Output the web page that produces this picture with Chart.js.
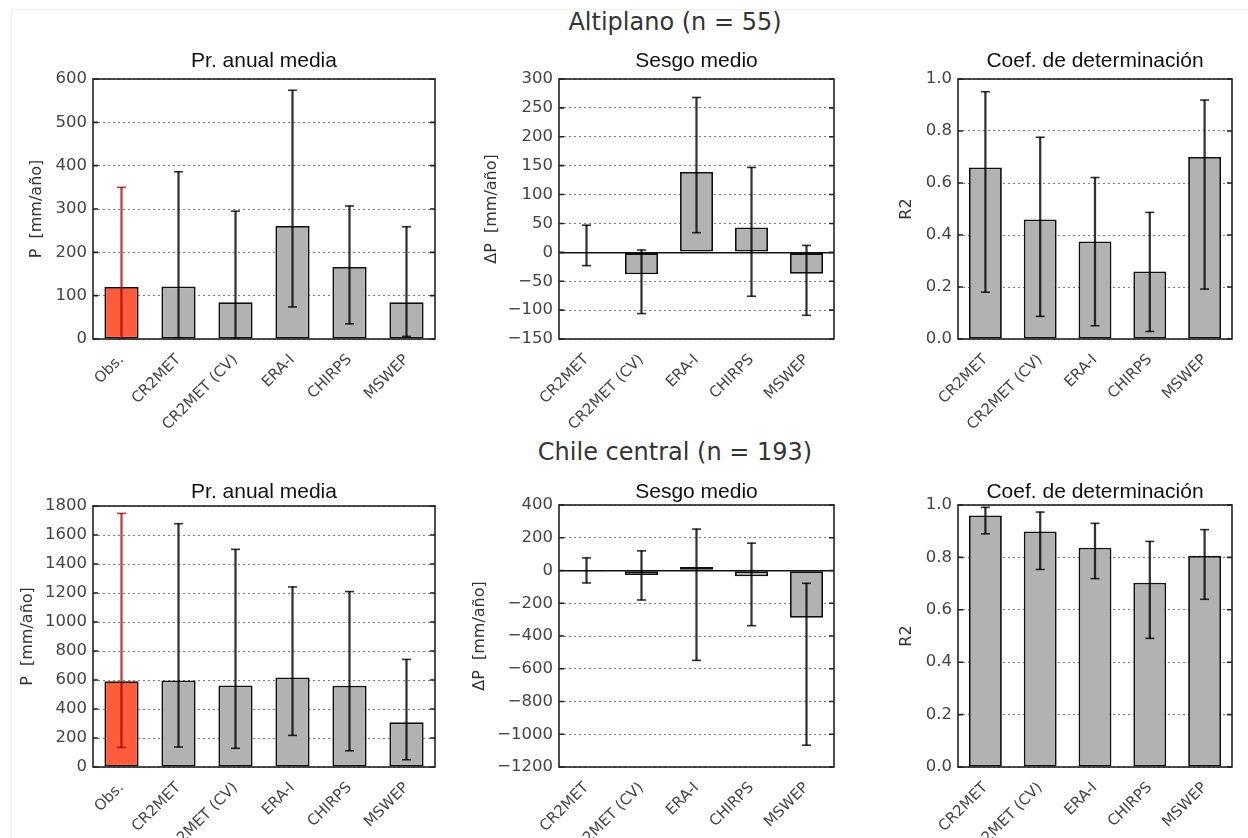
<!DOCTYPE html>
<html>
<head>
<meta charset="utf-8">
<script src="https://cdn.jsdelivr.net/npm/chart.js@4/dist/chart.umd.min.js"></script>
<style>
  body { margin: 0; background: #fff; width: 1248px; height: 838px; overflow: hidden; position: relative; }
  .frame { position: absolute; left: 11px; top: 9px; width: 1260px; height: 900px; border: 1px solid #eee; }
  .sup { position: absolute; left: 0; width: 1350px; text-align: center; font-family: 'DejaVu Sans'; font-size: 24px; color: #333; line-height: 28px; }
  canvas { position: absolute; }
</style>
</head>
<body>
<div class="frame"></div>
<div class="sup" style="top:8px">Altiplano (n = 55)</div>
<div class="sup" style="top:438px">Chile central (n = 193)</div>
<canvas id="p1"></canvas>
<canvas id="p2"></canvas>
<canvas id="p3"></canvas>
<canvas id="p4"></canvas>
<canvas id="p5"></canvas>
<canvas id="p6"></canvas>
<script>
const catsObs = ['Obs.', 'CR2MET', 'CR2MET (CV)', 'ERA-I', 'CHIRPS', 'MSWEP'];
const catsProd = ['CR2MET', 'CR2MET (CV)', 'ERA-I', 'CHIRPS', 'MSWEP'];

// Altiplano
const altPrMean = [120, 121, 85, 261, 166, 85];
const altPrLow = [2, 3, 2, 74, 35, 6];
const altPrHigh = [350, 386, 295, 574, 307, 259];
const altBias = [-1, -38, 139, 43, -37];
const altBiasLow = [-23, -106, 34, -76, -109];
const altBiasHigh = [47, 4, 268, 147, 12];
const altR2 = [0.66, 0.46, 0.375, 0.26, 0.70];
const altR2Low = [0.18, 0.087, 0.051, 0.029, 0.192];
const altR2High = [0.951, 0.776, 0.621, 0.487, 0.919];

// Chile central
const cenPrMean = [592, 597, 562, 618, 560, 308];
const cenPrLow = [135, 138, 129, 218, 112, 50];
const cenPrHigh = [1749, 1678, 1501, 1242, 1210, 742];
const cenBias = [-2, -28, 22, -35, -288];
const cenBiasLow = [-76, -180, -549, -337, -1067];
const cenBiasHigh = [77, 120, 253, 167, -78];
const cenR2 = [0.96, 0.899, 0.837, 0.703, 0.806];
const cenR2Low = [0.89, 0.754, 0.719, 0.491, 0.64];
const cenR2High = [0.991, 0.973, 0.93, 0.861, 0.906];

const GRAY = '#b2b2b2';
const RED = '#ff5b3d';
const ERR = 'rgba(0,0,0,0.8)';
const ERR_RED = 'rgba(160,0,0,0.75)';

// box around the axes + inward ticks on both sides, like matplotlib classic
const framePlugin = {
  id: 'frame',
  afterDraw(chart) {
    const { ctx, chartArea: a } = chart;
    const y = chart.scales.y;
    ctx.save();
    ctx.strokeStyle = '#222';
    ctx.lineWidth = 1.6;
    y.ticks.forEach(t => {
      const py = y.getPixelForValue(t.value);
      ctx.beginPath();
      ctx.moveTo(a.left, py); ctx.lineTo(a.left + 5, py);
      ctx.moveTo(a.right - 5, py); ctx.lineTo(a.right, py);
      ctx.stroke();
    });
    ctx.strokeRect(a.left, a.top, a.right - a.left, a.bottom - a.top);
    ctx.restore();
  }
};

function fmt(v, dec) {
  const s = dec ? v.toFixed(dec) : String(Math.round(v));
  return s.replace('-', '\u2212');
}

function makePanel(id, cfg) {
  const el = document.getElementById(id);
  el.width = cfg.w; el.height = cfg.h;
  el.style.left = cfg.x + 'px'; el.style.top = cfg.y + 'px';
  el.style.width = cfg.w + 'px'; el.style.height = cfg.h + 'px';

  const fill = cfg.labels.map(l => l === 'Obs.' ? RED : GRAY);
  const errCol = cfg.labels.map(l => l === 'Obs.' ? ERR_RED : ERR);

  const caps = (vals) => ({
    type: 'line', data: vals, showLine: false, order: 1,
    pointStyle: 'line', pointRadius: 4.5, pointHoverRadius: 4.5,
    pointBorderWidth: 1.6, pointBorderColor: errCol, borderColor: errCol
  });

  new Chart(el, {
    type: 'bar',
    data: {
      labels: cfg.labels,
      datasets: [
        {
          data: cfg.values, backgroundColor: fill, borderColor: '#111', borderWidth: 1.8,
          borderSkipped: false, barPercentage: 0.6, categoryPercentage: 1, grouped: false, order: 3
        },
        {
          data: cfg.low.map((l, i) => [l, cfg.high[i]]), backgroundColor: errCol,
          borderWidth: 0, barThickness: 1.6, grouped: false, order: 2
        },
        caps(cfg.high),
        caps(cfg.low)
      ]
    },
    options: {
      responsive: false,
      animation: false,
      devicePixelRatio: 1,
      layout: { padding: { right: 10 } },
      plugins: {
        legend: { display: false },
        tooltip: { enabled: false },
        title: {
          display: true, text: cfg.title, fullSize: false, color: '#111',
          font: { family: 'Liberation Sans', size: 21, weight: 'normal' },
          padding: { top: cfg.tTop, bottom: cfg.tBot }
        }
      },
      scales: {
        x: {
          grid: { display: false },
          border: { display: false },
          ticks: {
            color: '#444', font: { family: 'DejaVu Sans', size: 15 },
            minRotation: 45, maxRotation: 45, autoSkip: false, padding: 4
          },
          afterFit: s => { s.height = cfg.xh; }
        },
        y: {
          min: cfg.min, max: cfg.max, z: 1,
          ticks: {
            stepSize: cfg.step, color: '#444', padding: 6,
            font: { family: 'DejaVu Sans', size: 16.5 },
            callback: v => fmt(v, cfg.dec)
          },
          grid: {
            drawTicks: false,
            color: c => (cfg.zero && c.tick && c.tick.value === 0) ? '#111' : 'rgba(0,0,0,0.5)',
            lineWidth: c => (cfg.zero && c.tick && c.tick.value === 0) ? 1.5 : 1
          },
          border: {
            display: false,
            dash: c => (cfg.zero && c.tick && c.tick.value === 0) ? [] : [2, 3]
          },
          title: {
            display: true, text: cfg.yTitle, color: '#333',
            font: { family: 'DejaVu Sans', size: 16 },
            padding: { top: 4, bottom: 0 }
          },
          afterFit: s => { s.width = cfg.yw; }
        }
      }
    },
    plugins: [framePlugin]
  });
}

// top row: Altiplano
makePanel('p1', {
  x: 23, y: 40, w: 422, h: 400, yw: 70, xh: 101, tTop: 8.4, tBot: 5.4,
  labels: catsObs, values: altPrMean, low: altPrLow, high: altPrHigh,
  min: 0, max: 600, step: 100, dec: 0, title: 'Pr. anual media', yTitle: 'P  [mm/año]'
});
makePanel('p2', {
  x: 478, y: 40, w: 366, h: 400, yw: 81, xh: 101, tTop: 8.4, tBot: 5.4,
  labels: catsProd, values: altBias, low: altBiasLow, high: altBiasHigh,
  min: -150, max: 300, step: 50, dec: 0, zero: true, title: 'Sesgo medio', yTitle: 'ΔP  [mm/año]'
});
makePanel('p3', {
  x: 893, y: 40, w: 349, h: 400, yw: 65, xh: 101, tTop: 8.4, tBot: 5.4,
  labels: catsProd, values: altR2, low: altR2Low, high: altR2High,
  min: 0, max: 1, step: 0.2, dec: 1, title: 'Coef. de determinación', yTitle: 'R2'
});

// bottom row: Chile central
makePanel('p4', {
  x: 14, y: 470, w: 431, h: 368, yw: 79, xh: 71, tTop: 9.4, tBot: 1.4,
  labels: catsObs, values: cenPrMean, low: cenPrLow, high: cenPrHigh,
  min: 0, max: 1800, step: 200, dec: 0, title: 'Pr. anual media', yTitle: 'P  [mm/año]'
});
makePanel('p5', {
  x: 466, y: 470, w: 378, h: 368, yw: 93, xh: 71, tTop: 9.4, tBot: 0.4,
  labels: catsProd, values: cenBias, low: cenBiasLow, high: cenBiasHigh,
  min: -1200, max: 400, step: 200, dec: 0, zero: true, title: 'Sesgo medio', yTitle: 'ΔP  [mm/año]'
});
makePanel('p6', {
  x: 893, y: 470, w: 349, h: 368, yw: 65, xh: 71, tTop: 9.4, tBot: 0.4,
  labels: catsProd, values: cenR2, low: cenR2Low, high: cenR2High,
  min: 0, max: 1, step: 0.2, dec: 1, title: 'Coef. de determinación', yTitle: 'R2'
});
</script>
</body>
</html>
